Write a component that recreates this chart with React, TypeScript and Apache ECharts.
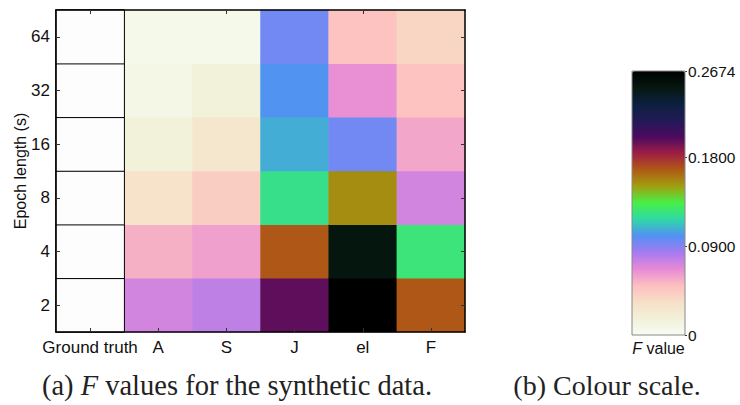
import React, { useEffect, useRef } from 'react';
import * as echarts from 'echarts';

const methods = ['Ground truth', 'A', 'S', 'J', 'el', 'F'];
const epochs = ['2', '4', '8', '16', '32', '64'];
// F values per method, ordered by epoch length 2,4,8,16,32,64
const valuesA = [0.072, 0.055, 0.03, 0.017, 0.009, 0.006];
const valuesS = [0.077, 0.06, 0.043, 0.026, 0.017, 0.006];
const valuesJ = [0.197, 0.168, 0.122, 0.107, 0.101, 0.094];
const valuesEl = [0.2674, 0.252, 0.155, 0.094, 0.065, 0.048];
const valuesF = [0.168, 0.125, 0.072, 0.058, 0.048, 0.038];
const groundTruth = [0, 0, 0, 0, 0, 0];
const scaleMin = 0;
const scaleMax = 0.2674;
const scaleStep = 0.09;
const colourStops = [
  '#f6fdf2', '#f2f1d9', '#f7dfc6', '#fdbfc0', '#e68ad6', '#a67af0',
  '#5290f4', '#30d8a8', '#48f048', '#a0a010', '#b05a14', '#a01e44',
  '#4c0a60', '#221a56', '#0c2040', '#05180f', '#000000',
];

const SANS = 'Liberation Sans, Arial, sans-serif';
const SERIF = 'Liberation Serif, Times New Roman, serif';

export default function App() {
  const ref = useRef<HTMLDivElement>(null);
  useEffect(() => {
    if (!ref.current) return;
    const chart = echarts.init(ref.current, null, { renderer: 'svg' });
    const methodSeries = [valuesA, valuesS, valuesJ, valuesEl, valuesF];
    const data: number[][] = [];
    methodSeries.forEach((vals, m) => {
      vals.forEach((v, e) => data.push([m + 1, e, v]));
    });
    const gtData = groundTruth.map((v, e) => [0, e, v]);

    const catAxisCommon = {
      type: 'category' as const,
      data: methods,
      gridIndex: 0,
      z: 10,
      axisLine: { show: true, lineStyle: { color: '#000', width: 1.5 } },
      axisTick: { show: true, inside: true, alignWithLabel: true, length: 4, lineStyle: { color: '#333' } },
      splitLine: { show: false },
    };
    const yCatCommon = {
      type: 'category' as const,
      data: epochs,
      gridIndex: 0,
      z: 10,
      axisLine: { show: true, lineStyle: { color: '#000', width: 1.5 } },
      axisTick: { show: true, inside: true, alignWithLabel: true, length: 4, lineStyle: { color: '#333' } },
      splitLine: { show: false },
    };

    chart.setOption({
      animation: false,
      backgroundColor: '#fff',
      grid: [
        { left: 56, top: 10, width: 409, height: 322, outerBoundsMode: 'none', containLabel: false },
        { left: 632, top: 71, width: 53, height: 264, outerBoundsMode: 'none', containLabel: false },
      ],
      xAxis: [
        {
          ...catAxisCommon,
          position: 'bottom',
          axisLabel: { color: '#111', fontSize: 17, fontFamily: SANS, margin: 7, interval: 0 },
        },
        {
          ...catAxisCommon,
          position: 'top',
          axisLabel: { show: false },
        },
        {
          type: 'category',
          gridIndex: 1,
          data: [''],
          axisLine: { show: false },
          axisTick: { show: false },
          axisLabel: { show: false },
          name: '{i|F} value',
          nameLocation: 'middle',
          nameGap: 5,
          nameTextStyle: {
            color: '#111',
            fontSize: 16,
            fontFamily: SANS,
            rich: {
              i: { fontStyle: 'italic', fontSize: 16, fontFamily: SANS, color: '#111' },
            },
          },
        },
      ],
      yAxis: [
        {
          ...yCatCommon,
          position: 'left',
          axisLabel: { color: '#111', fontSize: 17, fontFamily: SANS, margin: 6 },
          name: 'Epoch length (s)',
          nameLocation: 'middle',
          nameGap: 28,
          nameMoveOverlap: false,
          nameTextStyle: { color: '#111', fontSize: 16, fontFamily: SANS },
        },
        {
          ...yCatCommon,
          position: 'right',
          axisLabel: { show: false },
        },
        {
          type: 'value',
          gridIndex: 1,
          position: 'right',
          min: scaleMin,
          max: scaleMax,
          interval: scaleStep,
          axisLine: { show: false },
          axisTick: { show: true, length: 2, lineStyle: { color: '#333' } },
          splitLine: { show: false },
          axisLabel: {
            color: '#111',
            fontSize: 15.5,
            fontFamily: SANS,
            margin: 3,
            formatter: (v: number) => (v === 0 ? '0' : v.toFixed(4)),
          },
        },
      ],
      visualMap: [
        {
          type: 'continuous',
          seriesIndex: 0,
          min: scaleMin,
          max: scaleMax,
          calculable: false,
          hoverLink: false,
          orient: 'vertical',
          left: 632,
          top: 71,
          itemWidth: 53,
          itemHeight: 264,
          padding: 0,
          inRange: { color: colourStops },
        },
        {
          type: 'continuous',
          show: false,
          seriesIndex: 1,
          min: 0,
          max: 1,
          inRange: { color: ['#fdfdfd', '#fdfdfd'] },
        },
      ],
      series: [
        {
          type: 'heatmap',
          xAxisIndex: 0,
          yAxisIndex: 0,
          data,
          itemStyle: { borderWidth: 0 },
          emphasis: { disabled: true },
        },
        {
          type: 'heatmap',
          xAxisIndex: 0,
          yAxisIndex: 0,
          data: gtData,
          itemStyle: { borderColor: '#000', borderWidth: 1 },
          emphasis: { disabled: true },
        },
      ],
      graphic: [
        {
          type: 'rect',
          z: 100,
          shape: { x: 632, y: 71, width: 53, height: 264 },
          style: { fill: 'none', stroke: '#888', lineWidth: 1 },
        },
        {
          type: 'text',
          x: 237,
          y: 385,
          style: {
            text: '{n|(a) }{i|F}{n| values for the synthetic data.}',
            align: 'center',
            verticalAlign: 'middle',
            rich: {
              n: { fontSize: 28.5, fontFamily: SERIF, fill: '#222' },
              i: { fontSize: 28.5, fontFamily: SERIF, fontStyle: 'italic', fill: '#222' },
            },
          },
        },
        {
          type: 'text',
          x: 607,
          y: 385,
          style: {
            text: '(b) Colour scale.',
            align: 'center',
            verticalAlign: 'middle',
            fontSize: 28,
            fontFamily: SERIF,
            fill: '#222',
          },
        },
      ],
    });
    return () => chart.dispose();
  }, []);
  return (
    <div
      ref={ref}
      style={{ position: 'absolute', left: 0, top: 0, width: 740, height: 405 }}
    />
  );
}
